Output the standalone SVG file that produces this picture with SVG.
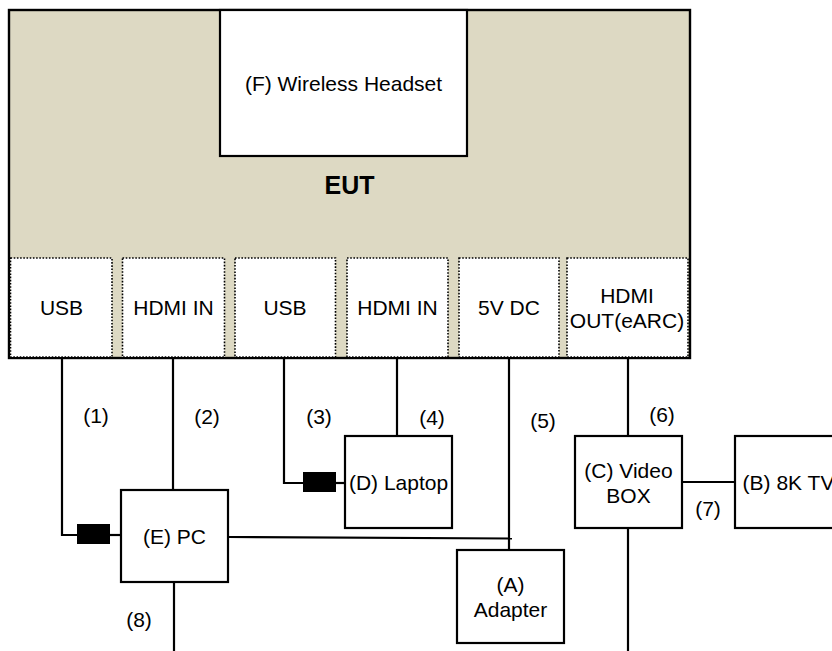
<svg xmlns="http://www.w3.org/2000/svg" width="832" height="651" viewBox="0 0 832 651">
<style>
text{font-family:"Liberation Sans",Arial,sans-serif;font-size:21px;fill:#000;text-anchor:middle}
.box{fill:#fff;stroke:#000;stroke-width:2.2}
.port{fill:#fff;stroke:#000;stroke-width:1.6;stroke-dasharray:1.6 1.6}
.ln{stroke:#000;stroke-width:2.2;fill:none}
.plug{fill:#000}
</style>
<rect width="832" height="651" fill="#fff"/>
<g id="eut">
<rect x="9" y="10" width="681" height="348" fill="#ddd9c3" stroke="#000" stroke-width="2.4"/>
<text x="349.5" y="194" style="font-weight:bold;font-size:25px">EUT</text>
</g>
<g id="headset">
<rect class="box" x="220" y="10" width="247" height="146"/>
<text x="343.5" y="91">(F) Wireless Headset</text>
</g>
<g id="port-usb1"><rect class="port" x="10.5" y="258" width="101.5" height="99"/><text x="61.5" y="315">USB</text></g>
<g id="port-hdmi1"><rect class="port" x="122.5" y="258" width="102" height="99"/><text x="173.5" y="315">HDMI IN</text></g>
<g id="port-usb2"><rect class="port" x="235" y="258" width="100.5" height="99"/><text x="285" y="315">USB</text></g>
<g id="port-hdmi2"><rect class="port" x="347" y="258" width="101" height="99"/><text x="397.5" y="315">HDMI IN</text></g>
<g id="port-5v"><rect class="port" x="459" y="258" width="100" height="99"/><text x="509" y="315">5V DC</text></g>
<g id="port-hdmiout"><rect class="port" x="567" y="258" width="121" height="99"/><text x="627" y="303">HDMI</text><text x="627" y="328">OUT(eARC)</text></g>
<g id="connectors">
<polyline class="ln" points="62,358 62,535 77,535"/>
<rect class="plug" x="77" y="524" width="33" height="20"/>
<line class="ln" x1="110" y1="535" x2="121" y2="535"/>
<line class="ln" x1="173" y1="358" x2="173" y2="490"/>
<polyline class="ln" points="284,358 284,483 303,483"/>
<rect class="plug" x="303" y="472" width="33" height="20"/>
<line class="ln" x1="336" y1="483" x2="345" y2="483"/>
<line class="ln" x1="397" y1="358" x2="397" y2="436"/>
<line class="ln" x1="509" y1="358" x2="509" y2="550"/>
<line class="ln" x1="228" y1="537" x2="512" y2="538.5"/>
<line class="ln" x1="628" y1="358" x2="628" y2="436"/>
<line class="ln" x1="682" y1="482" x2="735" y2="482"/>
<line class="ln" x1="628" y1="528" x2="628" y2="651"/>
<line class="ln" x1="174" y1="582" x2="174" y2="651"/>
<text x="96" y="423">(1)</text>
<text x="207" y="424">(2)</text>
<text x="319" y="424">(3)</text>
<text x="432" y="425">(4)</text>
<text x="543" y="428">(5)</text>
<text x="662" y="422">(6)</text>
<text x="708" y="516">(7)</text>
<text x="139" y="627">(8)</text>
</g>
<g id="pc"><rect class="box" x="121" y="490" width="107" height="92"/><text x="174.5" y="544">(E) PC</text></g>
<g id="laptop"><rect class="box" x="345" y="436" width="107" height="92"/><text x="398.5" y="490">(D) Laptop</text></g>
<g id="adapter"><rect class="box" x="457" y="550" width="107" height="93"/><text x="510.5" y="592">(A)</text><text x="510.5" y="617">Adapter</text></g>
<g id="videobox"><rect class="box" x="575" y="436" width="107" height="92"/><text x="628.5" y="478">(C) Video</text><text x="628.5" y="503">BOX</text></g>
<g id="tv"><rect class="box" x="735" y="436" width="107" height="92"/><text x="788.5" y="490">(B) 8K TV</text></g>
</svg>
